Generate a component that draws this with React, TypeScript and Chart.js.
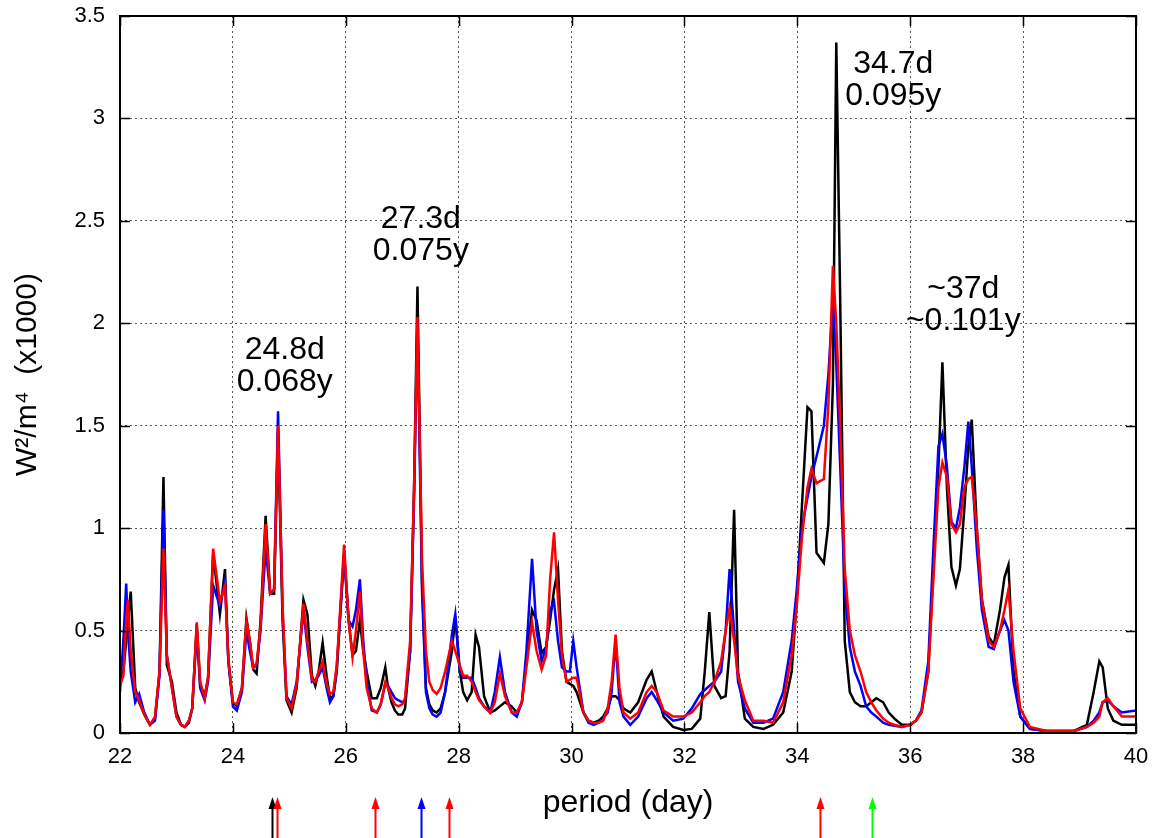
import React, { useEffect, useRef } from 'react';
import { Chart, registerables } from 'chart.js';

Chart.register(...registerables);

// ---- data ----
const periodDays = [
  22.00, 22.06, 22.11, 22.14, 22.19, 22.27, 22.34, 22.43, 22.53, 22.62,
  22.70, 22.77, 22.83, 22.92, 23.00, 23.08, 23.15, 23.22, 23.28, 23.36,
  23.42, 23.50, 23.56, 23.65, 23.77, 23.86, 23.92, 24.00, 24.07, 24.16,
  24.24, 24.30, 24.36, 24.42, 24.49, 24.58, 24.66, 24.73, 24.80, 24.88,
  24.95, 25.04, 25.13, 25.25, 25.32, 25.40, 25.46, 25.52, 25.59, 25.66,
  25.72, 25.78, 25.84, 25.97, 26.05, 26.12, 26.18, 26.25, 26.31, 26.37,
  26.46, 26.55, 26.62, 26.70, 26.75, 26.81, 26.87, 26.93, 27.00, 27.05,
  27.14, 27.21, 27.27, 27.35, 27.42, 27.48, 27.54, 27.61, 27.68, 27.76,
  27.88, 27.94, 28.02, 28.08, 28.15, 28.23, 28.30, 28.36, 28.45, 28.56,
  28.64, 28.73, 28.82, 28.94, 29.03, 29.12, 29.20, 29.30, 29.38, 29.47,
  29.55, 29.62, 29.69, 29.76, 29.83, 29.91, 29.97, 30.03, 30.09, 30.21,
  30.30, 30.39, 30.48, 30.56, 30.64, 30.71, 30.78, 30.85, 30.92, 31.04,
  31.18, 31.33, 31.42, 31.51, 31.63, 31.80, 31.98, 32.13, 32.28, 32.36,
  32.44, 32.53, 32.65, 32.73, 32.80, 32.88, 32.95, 33.07, 33.22, 33.40,
  33.57, 33.75, 33.90, 33.99, 34.08, 34.18, 34.25, 34.34, 34.47, 34.55,
  34.63, 34.69, 34.76, 34.84, 34.93, 35.02, 35.12, 35.22, 35.31, 35.40,
  35.52, 35.62, 35.72, 35.85, 36.00, 36.10, 36.20, 36.32, 36.41, 36.50,
  36.57, 36.65, 36.73, 36.81, 36.88, 36.96, 37.03, 37.09, 37.18, 37.27,
  37.39, 37.48, 37.59, 37.67, 37.74, 37.83, 37.95, 38.12, 38.42, 38.90,
  39.13, 39.25, 39.35, 39.41, 39.50, 39.60, 39.75, 40.00,
];

const powerBlack = [
  0.25, 0.30, 0.45, 0.55, 0.69, 0.22, 0.15, 0.09, 0.04, 0.07,
  0.30, 1.25, 0.33, 0.25, 0.10, 0.04, 0.03, 0.05, 0.12, 0.53,
  0.24, 0.18, 0.27, 0.88, 0.58, 0.80, 0.35, 0.15, 0.13, 0.22,
  0.56, 0.45, 0.31, 0.29, 0.55, 1.06, 0.68, 0.68, 1.47, 0.55,
  0.16, 0.10, 0.22, 0.65, 0.58, 0.28, 0.23, 0.30, 0.44, 0.28,
  0.17, 0.18, 0.30, 0.88, 0.55, 0.38, 0.40, 0.55, 0.40, 0.30,
  0.17, 0.17, 0.22, 0.32, 0.22, 0.15, 0.11, 0.09, 0.09, 0.12,
  0.40, 1.20, 2.18, 0.75, 0.22, 0.14, 0.11, 0.10, 0.12, 0.20,
  0.40, 0.57, 0.30, 0.20, 0.16, 0.20, 0.48, 0.42, 0.18, 0.10,
  0.11, 0.13, 0.15, 0.13, 0.10, 0.15, 0.35, 0.60, 0.55, 0.39,
  0.42, 0.55, 0.70, 0.80, 0.40, 0.25, 0.24, 0.23, 0.20, 0.10,
  0.06, 0.05, 0.06, 0.08, 0.12, 0.18, 0.18, 0.16, 0.12, 0.10,
  0.15, 0.26, 0.30, 0.20, 0.08, 0.03, 0.015, 0.02, 0.07, 0.30,
  0.59, 0.23, 0.17, 0.18, 0.40, 1.09, 0.30, 0.07, 0.03, 0.02,
  0.04, 0.10, 0.30, 0.65, 1.10, 1.59, 1.57, 0.88, 0.83, 1.02,
  1.70, 3.37, 2.10, 0.45, 0.20, 0.15, 0.13, 0.13, 0.15, 0.17,
  0.15, 0.10, 0.07, 0.04, 0.04, 0.06, 0.10, 0.30, 0.80, 1.30,
  1.81, 1.20, 0.81, 0.72, 0.80, 1.10, 1.40, 1.53, 1.00, 0.65,
  0.47, 0.43, 0.60, 0.76, 0.82, 0.30, 0.08, 0.02, 0.01, 0.01,
  0.04, 0.20, 0.35, 0.32, 0.12, 0.06, 0.04, 0.04,
];

const powerBlue = [
  0.20, 0.45, 0.73, 0.50, 0.30, 0.15, 0.19, 0.10, 0.04, 0.06,
  0.28, 1.09, 0.38, 0.22, 0.08, 0.04, 0.03, 0.06, 0.12, 0.50,
  0.22, 0.16, 0.25, 0.72, 0.62, 0.74, 0.35, 0.13, 0.11, 0.20,
  0.50, 0.40, 0.32, 0.33, 0.50, 0.90, 0.68, 0.70, 1.57, 0.60,
  0.18, 0.14, 0.25, 0.60, 0.42, 0.25, 0.26, 0.28, 0.32, 0.22,
  0.15, 0.18, 0.32, 0.87, 0.55, 0.52, 0.60, 0.75, 0.45, 0.25,
  0.11, 0.10, 0.14, 0.24, 0.23, 0.20, 0.17, 0.16, 0.15, 0.16,
  0.40, 1.15, 2.00, 0.70, 0.20, 0.12, 0.09, 0.08, 0.10, 0.20,
  0.48, 0.58, 0.30, 0.27, 0.27, 0.27, 0.22, 0.17, 0.13, 0.10,
  0.20, 0.37, 0.20, 0.10, 0.08, 0.15, 0.40, 0.85, 0.50, 0.35,
  0.42, 0.60, 0.64, 0.45, 0.32, 0.30, 0.30, 0.45, 0.32, 0.10,
  0.05, 0.04, 0.05, 0.07, 0.10, 0.20, 0.45, 0.15, 0.08, 0.04,
  0.08, 0.17, 0.20, 0.16, 0.10, 0.06, 0.07, 0.12, 0.19, 0.21,
  0.23, 0.25, 0.30, 0.50, 0.80, 0.50, 0.25, 0.12, 0.05, 0.05,
  0.07, 0.20, 0.45, 0.70, 1.00, 1.15, 1.25, 1.35, 1.50, 1.75,
  2.12, 1.80, 1.30, 0.70, 0.42, 0.30, 0.23, 0.13, 0.10, 0.08,
  0.05, 0.04, 0.035, 0.03, 0.04, 0.06, 0.11, 0.35, 0.90, 1.40,
  1.46, 1.30, 1.03, 1.00, 1.10, 1.30, 1.52, 1.30, 0.90, 0.60,
  0.42, 0.41, 0.50, 0.55, 0.50, 0.25, 0.08, 0.02, 0.01, 0.01,
  0.03, 0.06, 0.10, 0.15, 0.16, 0.13, 0.10, 0.11,
];

const powerRed = [
  0.23, 0.28, 0.55, 0.65, 0.40, 0.20, 0.16, 0.09, 0.04, 0.08,
  0.30, 0.90, 0.38, 0.22, 0.08, 0.04, 0.03, 0.06, 0.12, 0.54,
  0.25, 0.17, 0.27, 0.90, 0.64, 0.72, 0.36, 0.15, 0.14, 0.22,
  0.55, 0.45, 0.32, 0.34, 0.52, 1.02, 0.68, 0.70, 1.50, 0.62,
  0.17, 0.12, 0.24, 0.63, 0.45, 0.26, 0.25, 0.30, 0.35, 0.24,
  0.19, 0.20, 0.33, 0.92, 0.55, 0.37, 0.50, 0.69, 0.40, 0.22,
  0.12, 0.10, 0.14, 0.25, 0.22, 0.17, 0.14, 0.13, 0.14, 0.17,
  0.45, 1.20, 2.03, 0.85, 0.40, 0.25, 0.21, 0.19, 0.22, 0.30,
  0.45, 0.40, 0.33, 0.28, 0.28, 0.25, 0.20, 0.16, 0.13, 0.10,
  0.15, 0.29, 0.18, 0.10, 0.10, 0.15, 0.32, 0.54, 0.40, 0.31,
  0.38, 0.75, 0.98, 0.65, 0.38, 0.25, 0.26, 0.27, 0.27, 0.10,
  0.06, 0.05, 0.05, 0.06, 0.12, 0.25, 0.48, 0.22, 0.10, 0.07,
  0.10, 0.20, 0.23, 0.20, 0.11, 0.08, 0.08, 0.10, 0.15, 0.18,
  0.20, 0.25, 0.35, 0.50, 0.61, 0.45, 0.28, 0.16, 0.06, 0.06,
  0.05, 0.15, 0.38, 0.62, 0.95, 1.20, 1.29, 1.22, 1.24, 1.60,
  2.28, 2.00, 1.50, 0.80, 0.50, 0.38, 0.30, 0.20, 0.15, 0.11,
  0.07, 0.05, 0.04, 0.03, 0.04, 0.06, 0.10, 0.30, 0.75, 1.20,
  1.32, 1.25, 1.02, 0.98, 1.02, 1.20, 1.24, 1.25, 1.00, 0.65,
  0.45, 0.42, 0.50, 0.60, 0.70, 0.40, 0.12, 0.03, 0.01, 0.01,
  0.03, 0.05, 0.08, 0.15, 0.17, 0.13, 0.08, 0.08,
];

const xTickMin = 22;
const xTickMax = 40;
const xTickStep = 2;
const yTickMin = 0;
const yTickMax = 3.5;
const yTickStep = 0.5;

const xAxisTitle = 'period (day)';
const yAxisTitle = 'W\u00B2/m\u2074  (x1000)';

// peak labels: centre of the two-line block in data coordinates
const labelDays = [24.92, 27.33, 35.70, 36.94];
const labelValues = [1.79, 2.43, 3.185, 2.09];
const labelLines = [
  ['24.8d', '0.068y'],
  ['27.3d', '0.075y'],
  ['34.7d', '0.095y'],
  ['~37d', '~0.101y'],
];

// marker arrows under the axis
const arrowDays = [24.70, 24.79, 26.51, 27.33, 27.83, 34.41, 35.33];
const arrowColors = ['#000000', '#ff0000', '#ff0000', '#0000ff', '#ff0000', '#ff0000', '#00ff00'];

const FONT = '"Liberation Sans", Arial, Helvetica, sans-serif';

const toPoints = (ys: number[]) => periodDays.map((x, i) => ({ x, y: ys[i] }));

const framePlugin = {
  id: 'gnuFrame',
  afterDraw(chart: any) {
    const { ctx, chartArea: a, scales } = chart;
    const xs = scales.x;
    const ys = scales.y;
    ctx.save();
    // inward ticks on all four sides
    ctx.strokeStyle = '#000';
    ctx.lineWidth = 1.5;
    ctx.beginPath();
    for (let v = xTickMin; v <= xTickMax + 1e-9; v += xTickStep) {
      const px = Math.round(xs.getPixelForValue(v)) + 0.5;
      ctx.moveTo(px, a.bottom);
      ctx.lineTo(px, a.bottom - 10);
      ctx.moveTo(px, a.top);
      ctx.lineTo(px, a.top + 10);
    }
    for (let v = yTickMin; v <= yTickMax + 1e-9; v += yTickStep) {
      const py = Math.round(ys.getPixelForValue(v)) + 0.5;
      ctx.moveTo(a.left, py);
      ctx.lineTo(a.left + 10, py);
      ctx.moveTo(a.right, py);
      ctx.lineTo(a.right - 10, py);
    }
    ctx.stroke();
    // frame
    ctx.lineWidth = 2;
    ctx.strokeRect(a.left, a.top, a.right - a.left, a.bottom - a.top);

    // peak labels
    ctx.fillStyle = '#000';
    ctx.font = `32px ${FONT}`;
    ctx.textAlign = 'center';
    ctx.textBaseline = 'middle';
    labelDays.forEach((d, i) => {
      const cx = xs.getPixelForValue(d);
      const cy = ys.getPixelForValue(labelValues[i]);
      const lines = labelLines[i];
      lines.forEach((t, j) => {
        ctx.fillText(t, cx, cy + (j - (lines.length - 1) / 2) * 32);
      });
    });

    // arrows below the axis
    const tipY = 797;
    const baseY = chart.height;
    arrowDays.forEach((d, i) => {
      const px = Math.round(xs.getPixelForValue(d)) + 0.5;
      ctx.strokeStyle = arrowColors[i];
      ctx.fillStyle = arrowColors[i];
      ctx.lineWidth = 2;
      ctx.beginPath();
      ctx.moveTo(px, baseY);
      ctx.lineTo(px, tipY + 8);
      ctx.stroke();
      ctx.beginPath();
      ctx.moveTo(px, tipY);
      ctx.lineTo(px - 4, tipY + 12);
      ctx.lineTo(px + 4, tipY + 12);
      ctx.closePath();
      ctx.fill();
    });
    ctx.restore();
  },
};

export default function App() {
  const canvasRef = useRef<HTMLCanvasElement | null>(null);

  useEffect(() => {
    const canvas = canvasRef.current;
    if (!canvas) return;
    const chart = new Chart(canvas, {
      type: 'line',
      data: {
        datasets: [
          { label: 'red', data: toPoints(powerRed), borderColor: '#ff0000', borderWidth: 2.5 },
          { label: 'blue', data: toPoints(powerBlue), borderColor: '#0000ff', borderWidth: 2.5 },
          { label: 'black', data: toPoints(powerBlack), borderColor: '#000000', borderWidth: 2.5 },
        ],
      },
      options: {
        responsive: false,
        animation: false,
        devicePixelRatio: 1,
        layout: { padding: { left: 0, right: 22, top: 16, bottom: 0 } },
        elements: {
          point: { radius: 0, hoverRadius: 0 },
          line: { tension: 0, fill: false, borderJoinStyle: 'miter' },
        },
        plugins: {
          legend: { display: false },
          tooltip: { enabled: false },
        },
        scales: {
          x: {
            type: 'linear',
            min: xTickMin,
            max: xTickMax,
            ticks: {
              stepSize: xTickStep,
              color: '#000',
              font: { size: 22, family: FONT },
              padding: 11,
              maxRotation: 0,
              callback: (v: any) => String(+v),
            },
            grid: { color: '#555555', lineWidth: 1, drawTicks: false },
            border: { display: false, dash: [2, 3] },
            title: {
              display: true,
              text: xAxisTitle,
              color: '#000',
              font: { size: 32, family: FONT },
              padding: { top: 0, bottom: 16 },
            },
            afterFit: (s: any) => {
              s.height = 105;
              s.paddingLeft = 0;
              s.paddingRight = 0;
            },
          },
          y: {
            min: yTickMin,
            max: yTickMax,
            ticks: {
              stepSize: yTickStep,
              color: '#000',
              font: { size: 22, family: FONT },
              padding: 15,
              callback: (v: any) => String(+(+v).toFixed(2)),
            },
            grid: { color: '#555555', lineWidth: 1, drawTicks: false },
            border: { display: false, dash: [2, 3] },
            title: {
              display: true,
              text: yAxisTitle,
              color: '#000',
              font: { size: 30, family: FONT },
              padding: { top: 10, bottom: 0 },
            },
            afterFit: (s: any) => {
              s.width = 120;
              s.paddingTop = 0;
              s.paddingBottom = 0;
            },
          },
        },
      },
      plugins: [framePlugin],
    } as any);
    return () => chart.destroy();
  }, []);

  return (
    <div style={{ position: 'absolute', left: 0, top: 0, width: 1158, height: 838, background: '#fff' }}>
      <canvas ref={canvasRef} width={1158} height={838} />
    </div>
  );
}
